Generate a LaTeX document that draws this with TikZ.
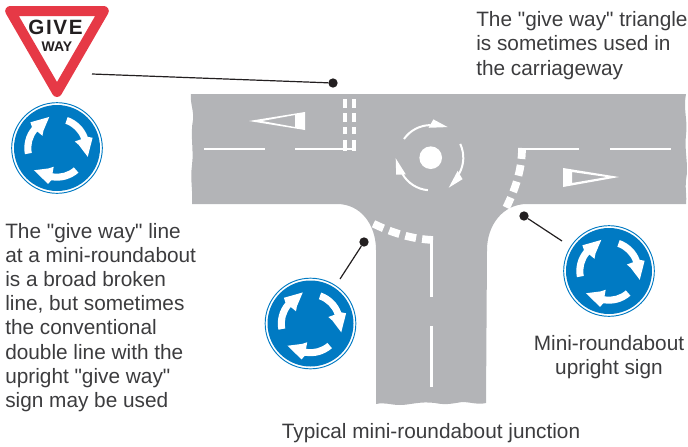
\documentclass[tikz,border=0pt]{standalone}
\usepackage{fontspec}
\newfontfamily\labelfont{Liberation Sans}
\usetikzlibrary{positioning}
\definecolor{roadGray}{RGB}{179,180,183}
\definecolor{signBlue}{RGB}{0,122,195}
\definecolor{signRed}{RGB}{230,57,70}
\definecolor{inkDark}{RGB}{35,31,32}
\definecolor{textGray}{RGB}{60,60,62}
\tikzset{
  caption/.style={font=\labelfont\fontsize{15.6}{18.1}\selectfont, text=textGray, align=left, inner sep=0pt},
  dotnode/.style={circle, fill=inkDark, inner sep=0pt, minimum size=7pt},
  leader/.style={draw=inkDark, line width=0.9pt},
  roadline/.style={draw=white, line width=2pt},
  blockline/.style={draw=white, line width=5.8pt, dash pattern=on 8.2pt off 4.6pt},
  stopline/.style={draw=white, line width=3pt},
  signdisc/.style={circle, draw=signBlue, fill=white, line width=0.7pt, inner sep=0pt, minimum size=68pt},
  pics/minisign/.style={code={
    \node[signdisc] (-disc) {};
    \fill[signBlue] (0,0) circle (43);
    \foreach \ang in {0,-120,-240} {
      \fill[white, rotate=\ang] (-191:32.7) arc[start angle=-191, end angle=-140, radius=32.7]
        -- (-136:37) -- (-104:32) -- (-128:22) -- (-140:19) -- (-140:25.7)
        arc[start angle=-140, end angle=-191, radius=25.7] -- cycle;
    }
  }}
}
\begin{document}
\begin{tikzpicture}[x=0.75pt, y=-0.75pt]
  \useasboundingbox (0,0) rectangle (688,446);
  % road
  \fill[roadGray] (191,94) -- (686,94)
    .. controls (683,110) and (688,120) .. (686,135)
    .. controls (684,150) and (689,165) .. (686,180)
    .. controls (685,190) and (687,197) .. (686,204)
    -- (527,204) .. controls (503,204) and (487,225) .. (487,250)
    -- (486,403) .. controls (478,405) and (470,402) .. (462,402)
    .. controls (450,404) and (445,405) .. (435,403)
    .. controls (420,401) and (410,405) .. (400,405)
    .. controls (390,405) and (385,402) .. (376,404)
    -- (376,250) .. controls (376,225) and (361,204) .. (337,204)
    -- (192,204) .. controls (193,190) and (190,180) .. (192,165)
    .. controls (194,150) and (190,135) .. (193,120)
    .. controls (194,110) and (190,104) .. (191,94) -- cycle;
  % centre lines
  \draw[roadline] (204,149) -- (265,149);
  \draw[roadline] (295,149) -- (356,149);
  \draw[roadline] (518,149) -- (579,149);
  \draw[roadline] (610,149) -- (671,149);
  \draw[roadline] (431.5,236) -- (431.5,297);
  \draw[roadline] (431.5,326) -- (431.5,387);
  % double line
  \draw[stopline, dash pattern=on 7pt off 3.6pt on 6.6pt off 3.8pt on 5.6pt off 4.2pt on 8pt off 9pt] (345,99) -- (345,150.5);
  \draw[stopline, dash pattern=on 7pt off 3.6pt on 6.6pt off 3.8pt on 5.6pt off 4.2pt on 8pt off 9pt] (354,99) -- (354,150.5);
  % broken give way lines
  \draw[blockline] (522,148) .. controls (522,170) and (515,190) .. (506,208);
  \draw[blockline] (433,240) .. controls (412,239) and (392,233) .. (372,223);
  % triangles in the carriageway
  \fill[white, even odd rule] (249,121) -- (305,112) -- (305,130) -- cycle
    (262,121) -- (295,115) -- (295,127) -- cycle;
  \fill[white, even odd rule] (619,177) -- (563,168) -- (563,187) -- cycle
    (607,177) -- (572,172) -- (572,183) -- cycle;
  % central island and arrows
  \node[circle, fill=white, inner sep=0pt, minimum size=17pt] (island) at (430.7,157.7) {};
  \begin{scope}[shift={(island.center)}]
    \foreach \ang in {0,-120,-240} {
      \draw[white, line width=1.5pt, rotate=\ang] (-145:32.6) arc[start angle=-145, end angle=-90, radius=32.6];
      \fill[white, rotate=\ang] (-61:35) -- (-86:38.4) -- (-94:30) -- cycle;
    }
  \end{scope}
  % give way sign
  \draw[signRed, fill=white, line width=7.5pt, line join=round] (10.2,11) -- (103.8,11) -- (57,92) -- cycle;
  \node[font=\labelfont\fontsize{15.5}{15.5}\selectfont\bfseries, text=inkDark] (give) at (55.5,27) {G\kern1.2pt I\kern1.2pt V\kern1.2pt E};
  \node[font=\labelfont\fontsize{10.5}{10.5}\selectfont\bfseries, text=inkDark] (way) at (57,47) {WAY};
  % round signs
  \pic (signa) at (57,148) {minisign};
  \pic (signb) at (310.5,323.5) {minisign};
  \pic (signc) at (609,271) {minisign};
  % leaders
  \node[dotnode] (dota) at (333,83) {};
  \node[dotnode] (dotb) at (364,242) {};
  \node[dotnode] (dotc) at (524,216) {};
  \coordinate (enda) at (92,74);
  \coordinate (endb) at (340,279);
  \coordinate (endc) at (562,241);
  \draw[leader] (enda) -- (dota);
  \draw[leader] (dotb) -- (endb);
  \draw[leader] (dotc) -- (endc);
  % texts
  \node[caption, anchor=north west] (toptext) at (476,11.5)
    {The "give way" triangle\\is sometimes used in\\the carriageway};
  \node[caption, anchor=north west] (lefttext) at (5,223)
    {The "give way" line\\at a mini-roundabout\\is a broad broken\\line, but sometimes\\the conventional\\double line with the\\upright "give way"\\sign may be used};
  \node[caption, align=center] (signtext) at (609,357.5) {Mini-roundabout\\upright sign};
  \node[caption] (junctiontext) at (431,433.5) {Typical mini-roundabout junction};
\end{tikzpicture}
\end{document}
